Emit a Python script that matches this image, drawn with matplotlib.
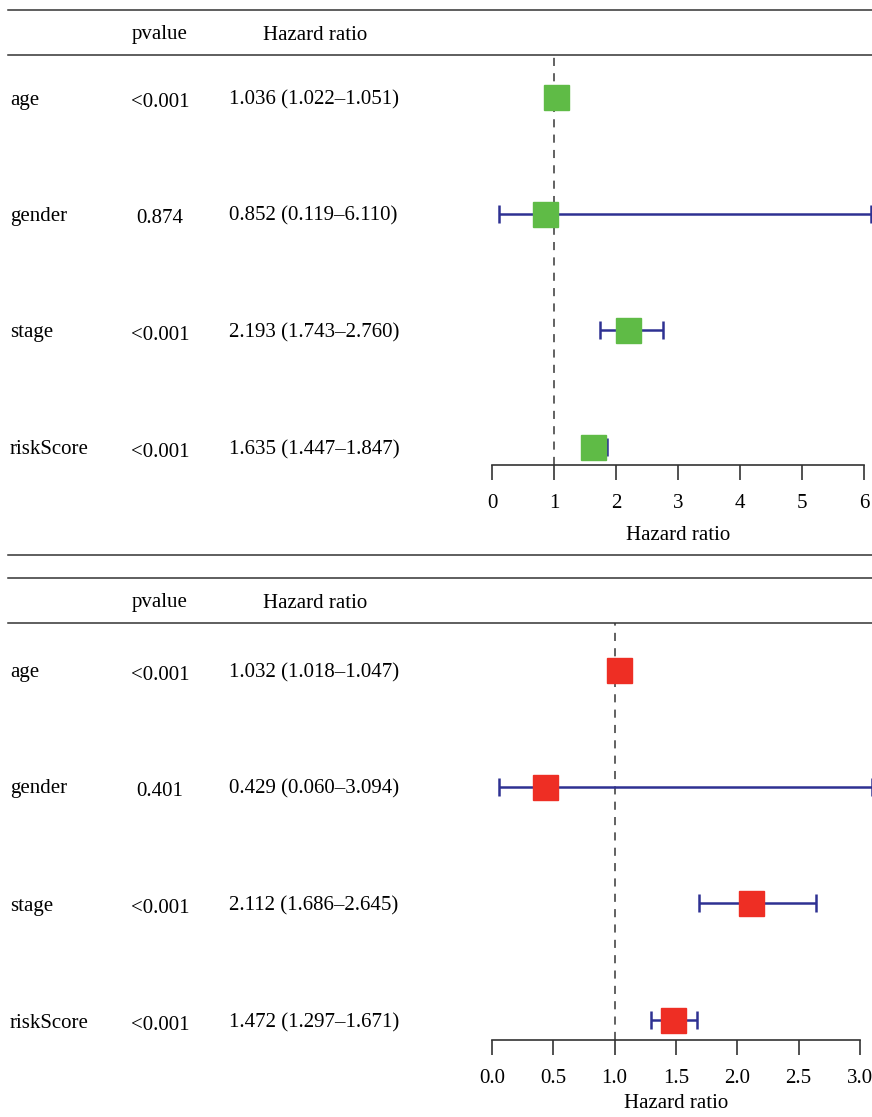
import numpy as np
import matplotlib
matplotlib.use("Agg")
import matplotlib.pyplot as plt
from matplotlib.lines import Line2D

plt.rcParams['font.family'] = ['Liberation Serif', 'DejaVu Serif']

# data
variables = ["age", "gender", "stage", "riskScore"]

uni_pvalue = ["<0.001", "0.874", "<0.001", "<0.001"]
uni_hr = np.array([1.036, 0.852, 2.193, 1.635])
uni_low = np.array([1.022, 0.119, 1.743, 1.447])
uni_high = np.array([1.051, 6.110, 2.760, 1.847])
uni_ticks = [0, 1, 2, 3, 4, 5, 6]

multi_pvalue = ["<0.001", "0.401", "<0.001", "<0.001"]
multi_hr = np.array([1.032, 0.429, 2.112, 1.472])
multi_low = np.array([1.018, 0.060, 1.686, 1.297])
multi_high = np.array([1.047, 3.094, 2.645, 1.671])
multi_ticks = [0.0, 0.5, 1.0, 1.5, 2.0, 2.5, 3.0]

W, H = 872, 1117
fig = plt.figure(figsize=(W / 100, H / 100), dpi=100)

FS = 15
RULE = '#333333'
BAR = '#2E3192'
DY = 3  # text baseline nudge in px


def fx(x):
    return x / W


def fy(y):
    return 1 - y / H


def rule(y):
    fig.add_artist(Line2D([fx(8), fx(W)], [fy(y), fy(y)], color=RULE, lw=1.1))


def panel(top, row_y, ax_left, ax_right, ax_bottom, pvals, hr, lo, hi, ticks, tickfmt,
          color, labelpad):
    # rules and header
    rule(top)
    rule(top + 45)
    fig.text(fx(160), fy(top + 22 + DY), "pvalue", ha='center', va='center', fontsize=FS)
    fig.text(fx(315), fy(top + 22 + DY), "Hazard ratio", ha='center', va='center', fontsize=FS)

    # table text
    for i, v in enumerate(variables):
        yy = fy(row_y[i] + DY)
        fig.text(fx(10), yy, v, ha='left', va='center', fontsize=FS)
        fig.text(fx(160), yy - 0.002, pvals[i], ha='center', va='center', fontsize=FS)
        fig.text(fx(229), yy, f"{hr[i]:.3f} ({lo[i]:.3f}\u2013{hi[i]:.3f})",
                 ha='left', va='center', fontsize=FS)

    # plot area
    ax_top = top + 45
    ax = fig.add_axes([fx(ax_left), fy(ax_bottom), fx(ax_right - ax_left),
                       (ax_bottom - ax_top) / H])
    ax.patch.set_alpha(0)
    spacing = row_y[1] - row_y[0]
    ypos = np.arange(len(variables))[::-1] + 1.0
    ax.set_ylim(1 - (ax_bottom - row_y[-1]) / spacing, 4 + (row_y[0] - ax_top) / spacing)
    ax.set_xlim(ticks[0], ticks[-1])

    ax.axvline(1, color='#555555', lw=1.3, ls=(0, (4.5, 4)), zorder=1)
    eb = ax.errorbar(hr, ypos, xerr=[hr - lo, hi - hr], fmt='none', ecolor=BAR,
                     elinewidth=1.8, capsize=6.8, capthick=1.8, zorder=2)
    for art in eb.get_children():
        art.set_clip_on(False)
    ax.plot(hr, ypos, 's', color=color, markersize=18, zorder=3, clip_on=False)

    for s in ['top', 'right', 'left']:
        ax.spines[s].set_visible(False)
    ax.spines['bottom'].set_color(RULE)
    ax.spines['bottom'].set_linewidth(1.2)
    ax.set_yticks([])
    ax.set_xticks(ticks)
    ax.set_xticklabels([tickfmt.format(t) for t in ticks], fontsize=FS)
    ax.tick_params(axis='x', direction='out', length=11, width=1.2, color=RULE, pad=10)
    ax.set_xlabel("Hazard ratio", fontsize=FS, labelpad=labelpad)
    return ax


panel(10, [97, 213, 330, 447], 492, 864, 465,
      uni_pvalue, uni_hr, uni_low, uni_high, uni_ticks, "{:.0f}", '#5FBB46', 9)
rule(555)

panel(578, [670, 786, 903, 1020], 492, 860, 1040,
      multi_pvalue, multi_hr, multi_low, multi_high, multi_ticks, "{:.1f}", '#EE2E24', 4)

fig.savefig("out.png", dpi=100)
